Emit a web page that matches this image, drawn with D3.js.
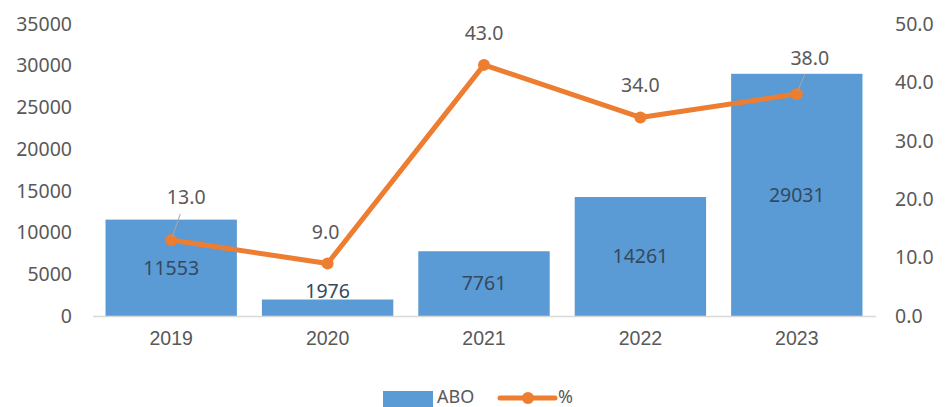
<!DOCTYPE html>
<html><head><meta charset="utf-8">
<script src="https://cdn.jsdelivr.net/npm/d3@7"></script>
<style>body{margin:0;background:#fff}svg{display:block;font-family:"Noto Sans","Open Sans",sans-serif}</style>
</head><body><svg id="c" width="945" height="407"></svg>
<script>
const categories = ["2019","2020","2021","2022","2023"];
const aboValues = [11553, 1976, 7761, 14261, 29031];
const pctValues = [13.0, 9.0, 43.0, 34.0, 38.0];
const leftTicks = [0,5000,10000,15000,20000,25000,30000,35000];
const rightTicks = [0,10,20,30,40,50];

const svg = d3.select("#c");
const m = {l:93, r:875, t:24, b:316};
const x = d3.scaleBand().domain(categories).range([m.l, m.r]).paddingInner(0.16).paddingOuter(0.08);
const yL = d3.scaleLinear().domain([0,35000]).range([m.b, m.t]);
const yR = d3.scaleLinear().domain([0,50]).range([m.b, m.t]);
const textCol = "#595959";
const fs = 19.5;

// left axis
const axL = d3.axisLeft(yL).tickValues(leftTicks).tickSize(0).tickPadding(0).tickFormat(d3.format("d"));
const gL = svg.append("g").attr("transform","translate(72,0)").call(axL);
gL.select(".domain").remove();
gL.selectAll("text").attr("fill",textCol).attr("font-size",fs).attr("font-family","Noto Sans");

const axR = d3.axisRight(yR).tickValues(rightTicks).tickSize(0).tickPadding(0).tickFormat(d3.format(".1f"));
const gR = svg.append("g").attr("transform","translate(895,0)").call(axR);
gR.select(".domain").remove();
gR.selectAll("text").attr("fill",textCol).attr("font-size",fs).attr("font-family","Noto Sans");

// bars
svg.selectAll("rect.bar").data(aboValues).join("rect").attr("class","bar")
  .attr("x",(d,i)=>x(categories[i])).attr("width",x.bandwidth())
  .attr("y",d=>yL(d)).attr("height",d=>m.b-yL(d)).attr("fill","#5B9BD5");

// baseline
svg.append("line").attr("x1",m.l).attr("x2",m.r+1).attr("y1",m.b+0.5).attr("y2",m.b+0.5)
  .attr("stroke","#d9d9d9").attr("stroke-width",1.5);

// category axis
const axX = d3.axisBottom(x).tickSize(0).tickPadding(0);
const gX = svg.append("g").attr("transform",`translate(0,${m.b+22})`).call(axX);
gX.select(".domain").remove();
gX.selectAll("text").attr("fill",textCol).attr("font-size",fs).attr("dy","0.35em");

// bar labels
svg.selectAll("text.bl").data(aboValues).join("text").attr("class","bl")
  .attr("x",(d,i)=>x(categories[i])+x.bandwidth()/2)
  .attr("y",d=> d<4000 ? yL(d)-8 : (yL(d)+m.b)/2)
  .attr("dy","0.35em").attr("text-anchor","middle")
  .attr("fill","#34495e").attr("font-size",fs).text(d=>d);

// line
const cx = i => x(categories[i]) + x.bandwidth()/2;
svg.append("path").datum(pctValues)
  .attr("d", d3.line().x((d,i)=>cx(i)).y(d=>yR(d)))
  .attr("fill","none").attr("stroke","#ED7D31").attr("stroke-width",5).attr("stroke-linejoin","round");
svg.selectAll("circle.pt").data(pctValues).join("circle").attr("class","pt")
  .attr("cx",(d,i)=>cx(i)).attr("cy",d=>yR(d)).attr("r",6).attr("fill","#ED7D31");

// line labels offsets (relative to point)
const lblOff = [[15,-43],[-2,-31],[0,-32],[0,-32],[13,-36]];
pctValues.forEach((d,i)=>{
  const px=cx(i), py=yR(d), o=lblOff[i];
  if(i===0||i===4){
    svg.append("line").attr("x1",px+1).attr("y1",py-3).attr("x2",px+ (i===0?9:8)).attr("y2",py-(i===0?26:20))
      .attr("stroke","#a6a6a6").attr("stroke-width",1);
  }
  svg.append("text").attr("x",px+o[0]).attr("y",py+o[1]).attr("dy","0.35em")
    .attr("text-anchor","middle").attr("fill",textCol).attr("font-size",fs).text(d.toFixed(1));
});

// legend
const lg = svg.append("g");
lg.append("rect").attr("x",383).attr("y",391).attr("width",50).attr("height",16).attr("fill","#5B9BD5");
lg.append("text").attr("x",437).attr("y",397).attr("dy","0.35em").attr("fill",textCol).attr("font-size",18).text("ABO");
lg.append("line").attr("x1",500).attr("x2",555).attr("y1",398).attr("y2",398).attr("stroke","#ED7D31").attr("stroke-width",5).attr("stroke-linecap","round");
lg.append("circle").attr("cx",528).attr("cy",398).attr("r",6).attr("fill","#ED7D31");
lg.append("text").attr("x",558).attr("y",397).attr("dy","0.35em").attr("fill",textCol).attr("font-size",18).text("%");
</script></body></html>
